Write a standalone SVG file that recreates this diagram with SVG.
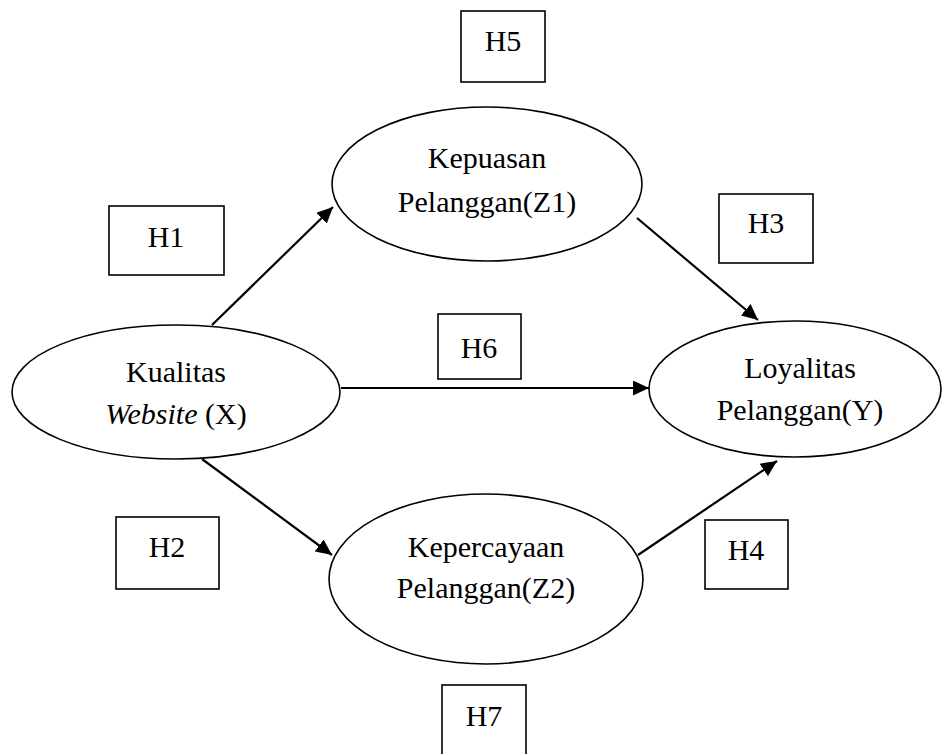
<svg xmlns="http://www.w3.org/2000/svg" width="943" height="754" viewBox="0 0 943 754">
<style>
.t{font-family:'Liberation Serif','Times New Roman',serif;font-size:30px;fill:#000;text-anchor:middle}
.n{fill:#fff;stroke:#000;stroke-width:1.6}
.b{fill:#fff;stroke:#000;stroke-width:1.6}
.c{stroke:#000;stroke-width:2.2;fill:none}
</style>
<defs>
<marker id="ah" markerUnits="userSpaceOnUse" markerWidth="18" markerHeight="15" refX="16" refY="7.5" orient="auto">
<path d="M0,0 L16,7.5 L0,15 Z" fill="#000"/>
</marker>
</defs>
<rect width="943" height="754" fill="#fff"/>
<g id="connectors">
<line class="c" x1="212" y1="325" x2="333" y2="207" marker-end="url(#ah)"/>
<line class="c" x1="202" y1="459" x2="332" y2="555" marker-end="url(#ah)"/>
<line class="c" x1="341" y1="388" x2="649" y2="388" marker-end="url(#ah)"/>
<line class="c" x1="637" y1="218" x2="758" y2="320" marker-end="url(#ah)"/>
<line class="c" x1="638" y1="555" x2="777" y2="461" marker-end="url(#ah)"/>
</g>
<g id="X">
<ellipse class="n" cx="176" cy="392" rx="164" ry="67"/>
<text class="t" x="176" y="382">Kualitas</text>
<text class="t" x="176" y="424"><tspan font-style="italic">Website</tspan> (X)</text>
</g>
<g id="Z1">
<ellipse class="n" cx="487" cy="184" rx="155" ry="77"/>
<text class="t" x="487" y="168">Kepuasan</text>
<text class="t" x="487" y="212">Pelanggan(Z1)</text>
</g>
<g id="Y">
<ellipse class="n" cx="795" cy="389" rx="146" ry="68"/>
<text class="t" x="800" y="378">Loyalitas</text>
<text class="t" x="800" y="420">Pelanggan(Y)</text>
</g>
<g id="Z2">
<ellipse class="n" cx="486" cy="579" rx="157" ry="85"/>
<text class="t" x="486" y="557">Kepercayaan</text>
<text class="t" x="486" y="598">Pelanggan(Z2)</text>
</g>
<g id="H1">
<rect class="b" x="109" y="206" width="115" height="69"/>
<text class="t" x="166" y="247">H1</text>
</g>
<g id="H2">
<rect class="b" x="116" y="517" width="103" height="72"/>
<text class="t" x="167" y="557">H2</text>
</g>
<g id="H3">
<rect class="b" x="719" y="194" width="94" height="69"/>
<text class="t" x="766" y="233">H3</text>
</g>
<g id="H4">
<rect class="b" x="705" y="520" width="83" height="69"/>
<text class="t" x="746" y="560">H4</text>
</g>
<g id="H5">
<rect class="b" x="461" y="11" width="84" height="71"/>
<text class="t" x="503" y="51">H5</text>
</g>
<g id="H6">
<rect class="b" x="438" y="314" width="83" height="65"/>
<text class="t" x="479" y="358">H6</text>
</g>
<g id="H7">
<rect class="b" x="442" y="685" width="84" height="75"/>
<text class="t" x="484" y="726">H7</text>
</g>
</svg>
